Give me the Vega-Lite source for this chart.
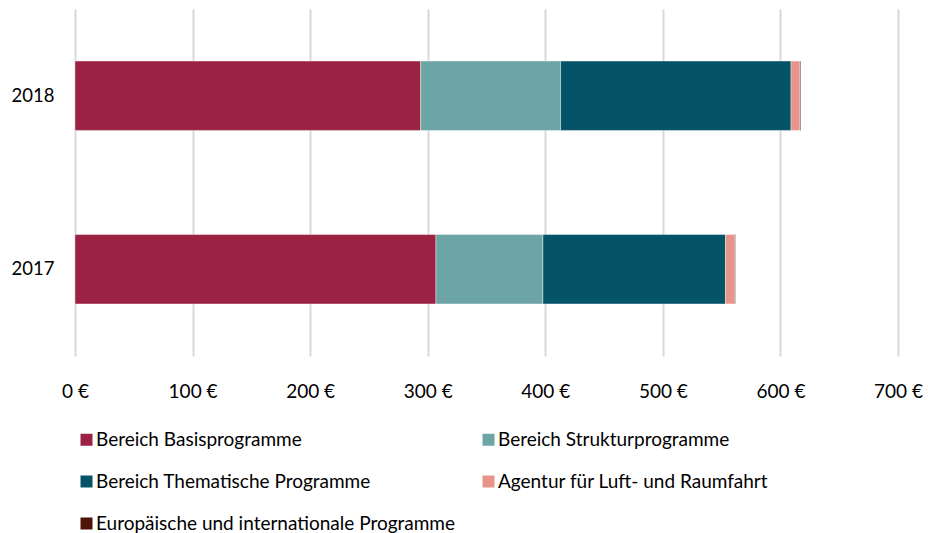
{
  "$schema": "https://vega.github.io/schema/vega-lite/v6.json",
  "width": 823,
  "height": 347,
  "autosize": {"type": "none"},
  "padding": {"left": 75, "top": 9, "right": 30, "bottom": 177},
  "background": "white",
  "config": {
    "view": {"stroke": null},
    "font": "Lato"
  },
  "data": {
    "values": [
      {"Jahr": "2018", "Bereich": "Bereich Basisprogramme", "Wert": 294, "o": 1},
      {"Jahr": "2018", "Bereich": "Bereich Strukturprogramme", "Wert": 119, "o": 2},
      {"Jahr": "2018", "Bereich": "Bereich Thematische Programme", "Wert": 196, "o": 3},
      {"Jahr": "2018", "Bereich": "Agentur für Luft- und Raumfahrt", "Wert": 7.6, "o": 4},
      {"Jahr": "2018", "Bereich": "Europäische und internationale Programme", "Wert": 0.7, "o": 5},
      {"Jahr": "2017", "Bereich": "Bereich Basisprogramme", "Wert": 307, "o": 1},
      {"Jahr": "2017", "Bereich": "Bereich Strukturprogramme", "Wert": 91, "o": 2},
      {"Jahr": "2017", "Bereich": "Bereich Thematische Programme", "Wert": 155.3, "o": 3},
      {"Jahr": "2017", "Bereich": "Agentur für Luft- und Raumfahrt", "Wert": 7.7, "o": 4},
      {"Jahr": "2017", "Bereich": "Europäische und internationale Programme", "Wert": 0.7, "o": 5}
    ]
  },
  "mark": {"type": "bar", "stroke": "white", "strokeWidth": 0.4},
  "encoding": {
    "y": {
      "field": "Jahr",
      "type": "nominal",
      "sort": ["2018", "2017"],
      "scale": {"paddingInner": 0.6, "paddingOuter": 0.3},
      "axis": {
        "title": null,
        "domain": false,
        "ticks": false,
        "labelFontSize": 18.5,
        "labelColor": "#000000",
        "labelPadding": 21
      }
    },
    "x": {
      "field": "Wert",
      "type": "quantitative",
      "stack": "zero",
      "scale": {"domain": [0, 700], "nice": false},
      "axis": {
        "title": null,
        "values": [0, 100, 200, 300, 400, 500, 600, 700],
        "labelExpr": "datum.value + ' €'",
        "labelFlush": false,
        "domain": false,
        "ticks": false,
        "grid": true,
        "gridColor": "#d9d9d9",
        "gridWidth": 2,
        "labelFontSize": 19,
        "labelColor": "#000000",
        "labelPadding": 26
      }
    },
    "order": {"field": "o", "type": "quantitative"},
    "color": {
      "field": "Bereich",
      "type": "nominal",
      "scale": {
        "domain": [
          "Bereich Basisprogramme",
          "Bereich Strukturprogramme",
          "Bereich Thematische Programme",
          "Agentur für Luft- und Raumfahrt",
          "Europäische und internationale Programme"
        ],
        "range": ["#9b2242", "#6da4a6", "#045366", "#e8948a", "#4e1309"]
      },
      "legend": {
        "title": null,
        "orient": "none",
        "direction": "horizontal",
        "legendX": 2,
        "legendY": 421,
        "columns": 2,
        "columnPadding": 23,
        "rowPadding": 22,
        "symbolType": "square",
        "symbolSize": 144,
        "symbolStrokeWidth": 0,
        "labelFontSize": 19,
        "labelColor": "#000000",
        "labelOffset": 0,
        "labelLimit": 500
      }
    }
  }
}
